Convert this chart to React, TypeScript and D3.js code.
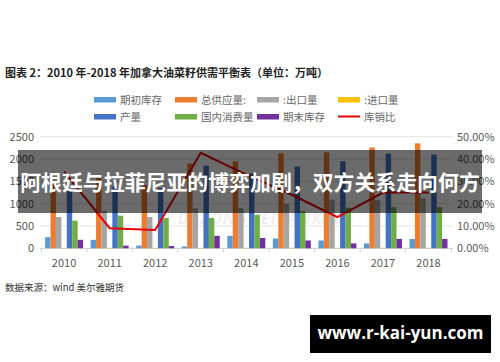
import React from "react";
import * as d3 from "d3";

const years = ["2010", "2011", "2012", "2013", "2014", "2015", "2016", "2017", "2018"];
const opening = [250, 190, 60, 40, 280, 220, 175, 110, 210];
const totalSupply = [1500, 1580, 1420, 1900, 1950, 2130, 2150, 2260, 2350];
const exportsQ = [700, 840, 700, 900, 900, 1000, 1090, 1080, 1120];
const importsQ = [8, 10, 8, 8, 10, 10, 8, 10, 10];
const production = [1280, 1380, 1350, 1850, 1680, 1830, 1950, 2120, 2100];
const domestic = [620, 730, 680, 680, 750, 830, 910, 920, 920];
const ending = [190, 60, 50, 280, 230, 175, 110, 210, 210];
const ratio = [34.3, 9.0, 8.2, 42.8, 33, 24, 14, 25, 25];

const leftTicks = [0, 500, 1000, 1500, 2000, 2500];
const rightTicks = [0, 10, 20, 30, 40, 50];

const seriesNames = ["期初库存", "总供应量:", ":出口量", ":进口量", "产量", "国内消费量", "期末库存"];
const seriesData = [opening, totalSupply, exportsQ, importsQ, production, domestic, ending];
const seriesColors = ["#5b9bd5", "#ed7d31", "#a5a5a5", "#ffc000", "#4472c4", "#70ad47", "#7030a0"];

const FONT = "'Noto Sans CJK SC', 'Noto Sans', sans-serif";

export default function App() {
  const W = 500, H = 362;
  const x0 = d3.scaleBand<string>().domain(years).range([41.3, 451.3]).padding(0);
  const x1 = d3.scaleBand<string>().domain(seriesNames).range([0, x0.bandwidth()]).paddingInner(0).paddingOuter(0.7);
  const y = d3.scaleLinear().domain([0, 2500]).range([248.3, 136.7]);
  const yr = d3.scaleLinear().domain([0, 50]).range([248.3, 136.7]);
  const line = d3.line<number>()
    .x((_, i) => (x0(years[i]) as number) + x0.bandwidth() / 2)
    .y((d) => yr(d));

  const legendItems = [
    { name: "期初库存", color: seriesColors[0], x: 94, y: 100 },
    { name: "总供应量:", color: seriesColors[1], x: 175, y: 100 },
    { name: ":出口量", color: seriesColors[2], x: 257, y: 100 },
    { name: ":进口量", color: seriesColors[3], x: 338, y: 100 },
    { name: "产量", color: seriesColors[4], x: 94, y: 117 },
    { name: "国内消费量", color: seriesColors[5], x: 175, y: 117 },
    { name: "期末库存", color: seriesColors[6], x: 257, y: 117 },
  ];

  return (
    <svg width={W} height={H} style={{ position: "absolute", left: 0, top: 0, background: "#fff" }}>
      <rect x={0} y={0} width={W} height={H} fill="#fff" />
      <text x={5} y={77} fontFamily={FONT} fontWeight="bold" fontSize={11} fill="#222">
        图表 2：2010 年-2018 年加拿大油菜籽供需平衡表（单位：万吨）
      </text>

      {legendItems.map((l) => (
        <g key={l.name}>
          <rect x={l.x} y={l.y - 3} width={22} height={5.5} fill={l.color} />
          <text x={l.x + 26} y={l.y + 4} fontFamily={FONT} fontSize={10.5} fill="#666">{l.name}</text>
        </g>
      ))}
      <line x1={338} x2={360} y1={116.5} y2={116.5} stroke="#e60000" strokeWidth={2} />
      <text x={364} y={121} fontFamily={FONT} fontSize={10.5} fill="#666">库销比</text>

      {/* watermark */}
      <text x={262} y={224} textAnchor="middle" fontFamily="'Open Sans', sans-serif" fontWeight="bold" fontStyle="italic" fontSize={16} fill="#000" opacity={0.06} letterSpacing={1}>DAZONGNEICANKAO</text>

      {leftTicks.map((t) => (
        <g key={"g" + t}>
          <line x1={40} x2={453} y1={y(t)} y2={y(t)} stroke={t === 0 ? "#d0d0d0" : "#e3e3e3"} strokeWidth={1} />
          <text x={34} y={y(t) + 4} textAnchor="end" fontFamily={FONT} fontSize={11} fill="#595959">{t}</text>
        </g>
      ))}
      {rightTicks.map((t) => (
        <text key={"r" + t} x={457} y={yr(t) + 4} fontFamily={FONT} fontSize={11} fill="#595959">{t.toFixed(2)}%</text>
      ))}
      {years.concat(["end"]).map((yv, i) => {
        const xx = 41.3 + i * x0.bandwidth();
        return <line key={"tk" + i} x1={xx} x2={xx} y1={248.3} y2={252.5} stroke="#d0d0d0" />;
      })}

      {years.map((yr0, i) => (
        <g key={yr0} transform={`translate(${x0(yr0)},0)`}>
          {seriesNames.map((s, j) => {
            const v = seriesData[j][i];
            return (
              <rect key={s} x={x1(s)} y={y(v)} width={x1.bandwidth()} height={y(0) - y(v)} fill={seriesColors[j]} />
            );
          })}
          <text x={x0.bandwidth() / 2} y={267} textAnchor="middle" fontFamily={FONT} fontSize={11} fill="#595959">{yr0}</text>
        </g>
      ))}

      <path d={line(ratio) || ""} fill="none" stroke="#e60000" strokeWidth={2} />

      <text x={5} y={291} fontFamily={FONT} fontSize={9.5} fill="#333">数据来源：wind 美尔雅期货</text>

      {/* banner overlay */}
      <rect x={18} y={150} width={464} height={63} fill="#000" opacity={0.58} />
      <text x={250} y={189.5} textAnchor="middle" fontFamily={FONT} fontWeight="bold" fontSize={20.9} fill="#fff">
        阿根廷与拉菲尼亚的博弈加剧，双方关系走向何方
      </text>

      <rect x={310} y={315} width={181} height={38} fill="#000" />
      <text x={400.5} y={339} textAnchor="middle" fontFamily="'Open Sans', sans-serif" fontWeight="bold" fontSize={17} fill="#fff">www.r-kai-yun.com</text>
    </svg>
  );
}
